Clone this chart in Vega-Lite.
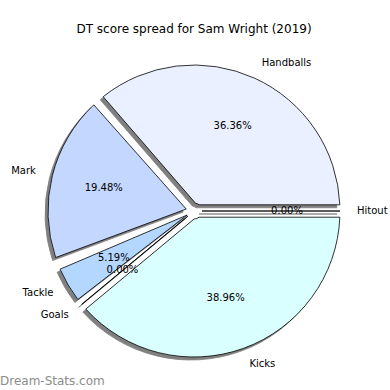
{
  "$schema": "https://vega.github.io/schema/vega-lite/v6.json",
  "padding": {"left": 0, "top": 23, "right": 2, "bottom": 0},
  "background": "white",
  "title": {"text": "DT score spread for Sam Wright (2019)", "font": "DejaVu Sans", "fontSize": 12, "fontWeight": "normal", "color": "black", "anchor": "middle", "offset": 10},
  "config": {"view": {"stroke": null}, "concat": {"spacing": 0}},
  "vconcat": [
    {
      "width": 388,
      "height": 330,
      "title": {"text": "Dream-Stats.com", "orient": "bottom", "anchor": "start", "font": "DejaVu Sans", "fontSize": 12, "fontWeight": "normal", "color": "#8c8c8c", "offset": 0},
      "data": {"values": [
        {"k": 0, "cat": "Hitout", "pts": 0, "pct": "0.00%"},
        {"k": 1, "cat": "Handballs", "pts": 28, "pct": "36.36%"},
        {"k": 2, "cat": "Mark", "pts": 15, "pct": "19.48%"},
        {"k": 3, "cat": "Tackle", "pts": 4, "pct": "5.19%"},
        {"k": 4, "cat": "Goals", "pts": 0, "pct": "0.00%"},
        {"k": 5, "cat": "Kicks", "pts": 30, "pct": "38.96%"}
      ]},
      "encoding": {
        "theta": {"field": "pts", "type": "quantitative", "stack": true, "scale": {"range": [1.5708, -4.7124]}},
        "order": {"field": "k", "type": "quantitative"}
      },
      "layer": [
        {
          "mark": {"type": "arc", "radius": 146, "radius2": 8, "padAngle": 0.085, "xOffset": -3, "yOffset": 3, "fill": "#808080", "stroke": "#808080", "strokeWidth": 0.8},
          "encoding": {}
        },
        {
          "mark": {"type": "arc", "radius": 146, "radius2": 8, "padAngle": 0.085, "stroke": "black", "strokeWidth": 0.8},
          "encoding": {
            "color": {"field": "cat", "type": "nominal", "legend": null,
              "scale": {"domain": ["Hitout", "Handballs", "Mark", "Tackle", "Goals", "Kicks"],
                        "range": ["#ffffff", "#eaf0ff", "#c4d7ff", "#b3d7ff", "#ffffff", "#d9ffff"]}}
          }
        },
        {
          "mark": {"type": "text", "radius": 93, "font": "DejaVu Sans", "fontSize": 10, "color": "black"},
          "encoding": {"text": {"field": "pct"}}
        },
        {
          "mark": {"type": "text", "radius": 163, "align": "left", "baseline": "middle", "font": "DejaVu Sans", "fontSize": 10, "color": "black"},
          "encoding": {"text": {"condition": {"test": "indexof(['Mark','Tackle','Goals'], datum.cat) < 0", "field": "cat"}, "value": ""}}
        },
        {
          "mark": {"type": "text", "radius": 163, "align": "right", "baseline": "middle", "font": "DejaVu Sans", "fontSize": 10, "color": "black"},
          "encoding": {"text": {"condition": {"test": "indexof(['Mark','Tackle','Goals'], datum.cat) >= 0", "field": "cat"}, "value": ""}}
        }
      ]
    }
  ]
}
